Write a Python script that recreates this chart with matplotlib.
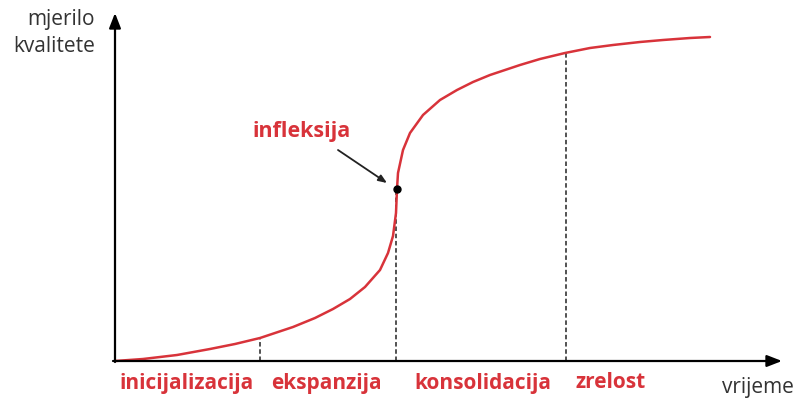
import matplotlib.pyplot as plt

# krivulja kvalitete (x = vrijeme, y = mjerilo kvalitete), ocitano sa slike
vrijeme = [0, 28, 62, 95, 120, 145, 178, 200, 218, 235, 250, 265, 273,
           278, 281, 282, 283, 288, 295, 308, 325, 342, 358, 375, 393,
           405, 425, 450, 475, 498, 525, 548, 575, 595]
kvaliteta = [0, 2, 6, 12, 17, 23, 34, 43, 52, 62, 74, 91, 108,
             125, 148, 172, 188, 211, 228, 246, 261, 271, 279, 286, 292,
             296, 302, 308, 313, 316, 319, 321, 323, 324]

granice = [145, 281, 451]          # granice faza
granice_y = [23, 172, 308]
infleksija = (282, 172)

faze = ['inicijalizacija', 'ekspanzija', 'konsolidacija', 'zrelost']
faze_x = [72, 211, 368, 496]

crvena = '#d8333a'

fig = plt.figure(figsize=(8.01, 3.98), dpi=100)
ax = fig.add_axes([0, 0, 1, 1])
ax.set_xlim(-115, 686)
ax.set_ylim(-37, 361)
ax.axis('off')

# osi sa strelicama
ax.annotate('', xy=(667, 0), xytext=(-2, 0),
            arrowprops=dict(arrowstyle='-|>,head_length=0.9,head_width=0.35',
                            color='black', lw=1.6, shrinkA=0, shrinkB=0))
ax.annotate('', xy=(0, 348), xytext=(0, -1),
            arrowprops=dict(arrowstyle='-|>,head_length=0.9,head_width=0.35',
                            color='black', lw=1.6, shrinkA=0, shrinkB=0))

for gx, gy in zip(granice, granice_y):
    ax.plot([gx, gx], [0, gy], color='#444444', lw=1.3, ls=(0, (2.5, 1.5)))

ax.plot(vrijeme, kvaliteta, color=crvena, lw=1.8,
        solid_capstyle='round', solid_joinstyle='round')
ax.plot(*infleksija, 'o', color='black', ms=5)

ax.annotate('', xy=(infleksija[0] - 10, infleksija[1] + 6), xytext=(223, 211),
            arrowprops=dict(arrowstyle='-|>,head_length=0.5,head_width=0.2',
                            color='#222222', lw=1.3, shrinkA=0, shrinkB=0))
ax.text(187, 230, 'infleksija', color=crvena, fontsize=15.5, fontweight='bold',
        family='Open Sans', ha='center', va='center')

for f, fx in zip(faze, faze_x):
    ax.text(fx, -22, f, color=crvena, fontsize=15, fontweight='bold',
            family='Open Sans', ha='center', va='center')

ax.text(643, -27, 'vrijeme', color='#333333', fontsize=15, family='Open Sans',
        ha='center', va='center')
ax.text(-20, 328, 'mjerilo\nkvalitete', color='#333333', fontsize=15,
        family='Open Sans', ha='right', va='center', linespacing=1.35)

fig.savefig('out.png', dpi=100)
